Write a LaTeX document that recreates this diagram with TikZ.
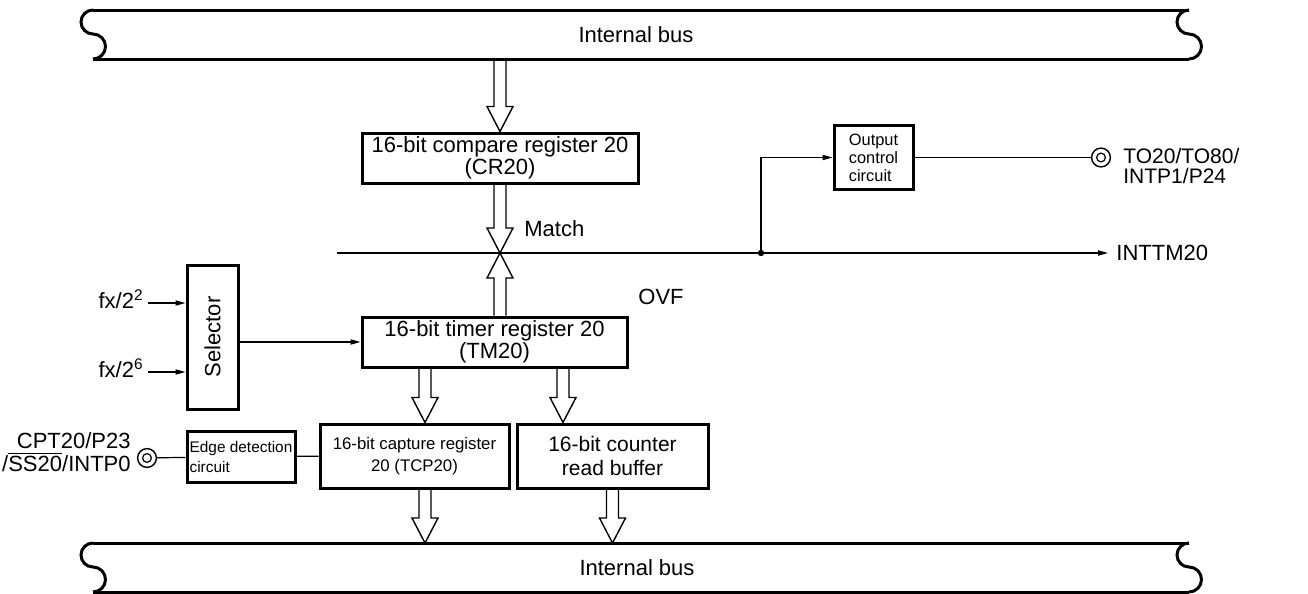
\documentclass[tikz,border=0pt]{standalone}
\usepackage{fontspec}
\setmainfont{Liberation Sans}
\usepackage{graphicx}
\usetikzlibrary{calc,arrows.meta}

\newcommand{\fatarrow}[2]{%
  \draw[fat] ($(#1)+(-3pt,0)$) -- ($(#2)!12.5pt!(#1)+(-3pt,0)$) -- ($(#2)!12.5pt!(#1)+(-6.5pt,0)$) -- (#2)
    -- ($(#2)!12.5pt!(#1)+(6.5pt,0)$) -- ($(#2)!12.5pt!(#1)+(3pt,0)$) -- ($(#1)+(3pt,0)$);}

\begin{document}
\begin{tikzpicture}[x=0.5pt, y=-0.5pt,
  every node/.style={font=\fontsize{11}{9.5}\selectfont, inner sep=0pt},
  box/.style={draw, line width=1.5pt, inner sep=1pt, align=center},
  wire/.style={line width=0.6pt},
  fat/.style={line width=0.7pt},
  bus/.style={line width=1.5pt},
  arr/.style={-{Triangle[length=5pt,width=2.6pt]}},
  terminal/.style={circle, draw, line width=0.7pt, minimum size=9.4pt, inner sep=0pt},
  busend/.pic={\draw[bus] (0,0) .. controls (-6.6,0) and (-12,5.4) .. (-12,12) .. controls (-12,18.6) and (-6.6,24) .. (0,24)
    .. controls (6.9,24) and (12.5,29.6) .. (12.5,36.5) .. controls (12.5,43.4) and (6.9,49) .. (0,49);}]
  \useasboundingbox (0,0) rectangle (1308,594);
  \draw[bus] (93,10) -- (1189,10);
  \draw[bus] (93,59) -- (1189,59);
  \pic at (93,10) {busend};
  \pic at (1189,10) {busend};
  \draw[bus] (93,543) -- (1189,543);
  \draw[bus] (93,592) -- (1189,592);
  \pic at (93,543) {busend};
  \pic at (1189,543) {busend};
  \node (tbus) at (636,35) {Internal bus};
  \node (bbus) at (637,568) {Internal bus};
  \coordinate (tb) at (0,59);
  \coordinate (bb) at (0,543);
  \coordinate (mt) at (500,253);
  \coordinate (ms) at (337,253);
  \coordinate (jn) at (761,253);
  \coordinate (c1) at (425,0);
  \coordinate (c2) at (563,0);
  \node [box, minimum width=138pt, minimum height=25pt] (cmp) at (500,158) {16-bit compare register 20\\(CR20)};
  \node [box, minimum width=132.5pt, minimum height=25pt] (tmr) at (494.5,342) {16-bit timer register 20\\(TM20)};
  \node [box, minimum width=25.5pt, minimum height=72pt] (sel) at (212.5,337) {\rotatebox{90}{Selector}};
  \node [box, align=left, font=\fontsize{7.7}{10}\selectfont, minimum width=54pt, minimum height=25.5pt] (edge) at (241,456.5) {Edge detection\\circuit};
  \node [box, font=\fontsize{8.4}{11}\selectfont, minimum width=94.5pt, minimum height=32pt] (cap) at (414.5,456) {16-bit capture register\\20 (TCP20)};
  \node [box, font=\fontsize{10.5}{12}\selectfont, minimum width=95.5pt, minimum height=32pt] (cnt) at (612.5,456) {16-bit counter\\read buffer};
  \node [box, align=left, font=\fontsize{8.2}{9}\selectfont, minimum width=39.5pt, minimum height=32pt] (out) at (873.5,157.5) {Output\\control\\circuit};
  \node [anchor=west] (match) at (524,229) {Match};
  \node [anchor=west] (ovf) at (638,297) {OVF};
  \node [anchor=west] (inttm) at (1116,253) {INTTM20};
  \node [anchor=west, align=left, font=\fontsize{10.5}{10}\selectfont] (to) at (1123,166) {TO20/TO80/\\INTP1/P24};
  \node [anchor=mid east] (fa) at (144,303) {fx/2\textsuperscript{2}};
  \node [anchor=mid east] (fb) at (144,372) {fx/2\textsuperscript{6}};
  \node [anchor=east, align=right, font=\fontsize{11}{11.5}\selectfont] (cpt) at (131,452) {CPT20/P23\\/\smash{$\overline{\hbox{SS20}}$}/INTP0};
  \node [terminal] (tin) at (147,458) {};
  \node [terminal] (tout) at (1101,157.5) {};
  \draw[wire] (tin.center) circle (2.2pt);
  \draw[wire] (tout.center) circle (2.2pt);
  \fatarrow{tb -| cmp.north}{cmp.north}
  \fatarrow{cmp.south}{mt}
  \fatarrow{tmr.north -| mt}{mt}
  \fatarrow{tmr.south -| c1}{cap.north -| c1}
  \fatarrow{tmr.south -| c2}{cnt.north -| c2}
  \fatarrow{cap.south -| c1}{bb -| c1}
  \fatarrow{cnt.south}{bb -| cnt.south}
  \draw[wire, arr] (ms) -- ([xshift=-4pt]inttm.west);
  \fill (jn) circle (1.6pt);
  \draw[wire, arr] (jn) |- (out.west);
  \draw[wire] (out) -- (tout);
  \draw[wire, arr] ([xshift=2pt]fa.mid east) -- (fa.mid east -| sel.west);
  \draw[wire, arr] ([xshift=2pt]fb.mid east) -- (fb.mid east -| sel.west);
  \draw[wire, arr] (tmr.west -| sel.east) -- (tmr.west);
  \draw[wire] (tin) -- (edge);
  \draw[wire] (edge) -- (cap);
\end{tikzpicture}
\end{document}
